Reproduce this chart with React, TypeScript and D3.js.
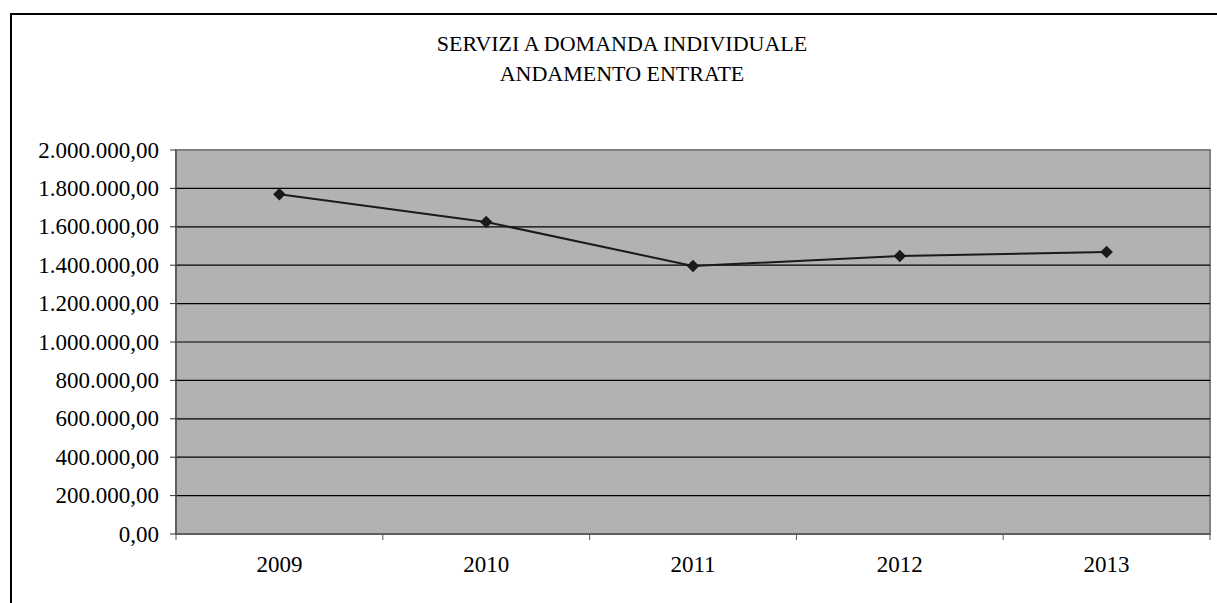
import React from "react";
import * as d3 from "d3";

const categories = ["2009", "2010", "2011", "2012", "2013"];
const values = [1770000, 1625000, 1396000, 1448000, 1469000];
const yTicks = [0, 200000, 400000, 600000, 800000, 1000000, 1200000, 1400000, 1600000, 1800000, 2000000];
const titleLines = ["SERVIZI A DOMANDA INDIVIDUALE", "ANDAMENTO ENTRATE"];

const W = 1217;
const H = 603;
const plot = { left: 176, right: 1210, top: 150, bottom: 534 };
const font = "Liberation Serif, Times New Roman, serif";

const fmt = (v: number) => {
  const s = Math.round(v).toString().replace(/\B(?=(\d{3})+(?!\d))/g, ".");
  return s + ",00";
};

export default function App() {
  const x = d3.scaleBand<string>().domain(categories).range([plot.left, plot.right]).padding(0);
  const y = d3.scaleLinear().domain([0, 2000000]).range([plot.bottom, plot.top]);
  const line = d3
    .line<number>()
    .x((_, i) => (x(categories[i]) as number) + x.bandwidth() / 2)
    .y((d) => y(d));
  const diamond = d3.symbol().type(d3.symbolDiamond2).size(100)() as string;
  const bounds = d3.range(categories.length + 1).map((i) => plot.left + i * x.bandwidth());

  return (
    <svg width={W} height={H} style={{ position: "absolute", left: 0, top: 0, fontFamily: font }}>
      <rect x={0} y={0} width={W} height={H} fill="#fff" />
      {/* outer chart border (clipped at right/bottom) */}
      <line x1={11} y1={14} x2={W + 5} y2={14} stroke="#000" strokeWidth={2} />
      <line x1={11} y1={13} x2={11} y2={H + 5} stroke="#000" strokeWidth={2} />
      {titleLines.map((t, i) => (
        <text key={t} x={622} y={51 + i * 30} textAnchor="middle" fontSize={22} fill="#000" style={{ fontFamily: font }}>
          {t}
        </text>
      ))}
      <rect
        x={plot.left}
        y={plot.top}
        width={plot.right - plot.left}
        height={plot.bottom - plot.top}
        fill="#b2b2b2"
        stroke="#808080"
        strokeWidth={2}
      />
      {yTicks.slice(1, -1).map((t) => (
        <line key={t} x1={plot.left} x2={plot.right} y1={y(t)} y2={y(t)} stroke="#000" strokeWidth={1.2} />
      ))}
      {/* y axis */}
      <line x1={plot.left} x2={plot.left} y1={plot.top} y2={plot.bottom} stroke="#555" strokeWidth={1.5} />
      {yTicks.map((t) => (
        <g key={t}>
          <line x1={plot.left - 6} x2={plot.left} y1={y(t)} y2={y(t)} stroke="#333" strokeWidth={1} />
          <text x={159} y={y(t) + 7.5} textAnchor="end" fontSize={23} fill="#000" style={{ fontFamily: font }}>
            {fmt(t)}
          </text>
        </g>
      ))}
      {/* x axis */}
      <line x1={plot.left} x2={plot.right} y1={plot.bottom} y2={plot.bottom} stroke="#555" strokeWidth={1.5} />
      {bounds.map((b, i) => (
        <line key={i} x1={b} x2={b} y1={plot.bottom} y2={plot.bottom + 6} stroke="#555" strokeWidth={1} />
      ))}
      {categories.map((c) => (
        <text
          key={c}
          x={(x(c) as number) + x.bandwidth() / 2}
          y={572}
          textAnchor="middle"
          fontSize={23}
          fill="#000"
          style={{ fontFamily: font }}
        >
          {c}
        </text>
      ))}
      <path d={line(values) as string} fill="none" stroke="#1a1a1a" strokeWidth={2} />
      {values.map((v, i) => (
        <path
          key={i}
          d={diamond}
          transform={`translate(${(x(categories[i]) as number) + x.bandwidth() / 2},${y(v)})`}
          fill="#1a1a1a"
        />
      ))}
    </svg>
  );
}
